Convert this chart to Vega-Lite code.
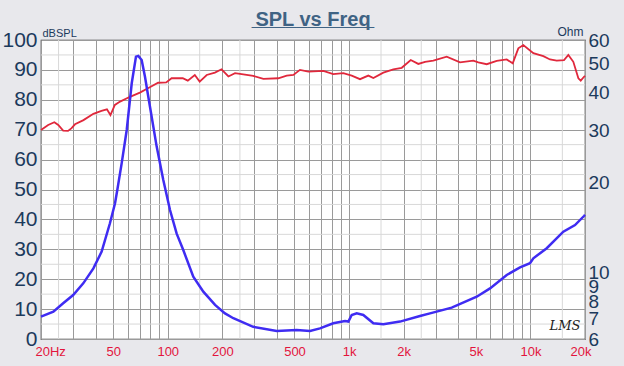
{
  "$schema": "https://vega.github.io/schema/vega-lite/v6.json",
  "width": 544,
  "height": 299,
  "autosize": {"type": "none"},
  "padding": {"left": 41, "top": 40, "right": 39, "bottom": 27},
  "background": "#e8e8ec",
  "config": {
    "view": {"stroke": "#333333", "strokeWidth": 1.2, "fill": "white"},
    "font": "Liberation Sans"
  },
  "title": {
    "text": "SPL vs Freq",
    "subtitle": "___________",
    "font": "Liberation Sans",
    "fontSize": 20,
    "fontWeight": "bold",
    "color": "#3f6384",
    "subtitleFont": "Liberation Sans",
    "subtitleFontSize": 20,
    "subtitleFontWeight": "bold",
    "subtitleColor": "#3f6384",
    "subtitlePadding": -21,
    "anchor": "middle",
    "offset": -6
  },
  "datasets": {
    "spl": [
      {"f": 20, "db": 69.9}, {"f": 21.9, "db": 71.6}, {"f": 23.7, "db": 72.5}, {"f": 24.9, "db": 71.6},
      {"f": 26.5, "db": 69.7}, {"f": 28.2, "db": 69.6}, {"f": 29.5, "db": 70.5}, {"f": 30.8, "db": 71.8},
      {"f": 34.3, "db": 73.2}, {"f": 38.9, "db": 75.3}, {"f": 43.1, "db": 76.3}, {"f": 46.2, "db": 76.8},
      {"f": 48.3, "db": 74.9}, {"f": 51.1, "db": 78.3}, {"f": 54.6, "db": 79.4}, {"f": 61.9, "db": 81.0},
      {"f": 70.2, "db": 82.4}, {"f": 79.6, "db": 84.2}, {"f": 88.5, "db": 85.7}, {"f": 98.1, "db": 85.8},
      {"f": 105, "db": 87.2}, {"f": 121, "db": 87.2}, {"f": 129, "db": 86.4}, {"f": 141, "db": 88.3},
      {"f": 150, "db": 86.1}, {"f": 164, "db": 88.3}, {"f": 182, "db": 89.1}, {"f": 198, "db": 90.2},
      {"f": 216, "db": 87.8}, {"f": 235, "db": 88.9}, {"f": 261, "db": 88.5}, {"f": 296, "db": 88.0},
      {"f": 337, "db": 87.0}, {"f": 407, "db": 87.2}, {"f": 453, "db": 88.1}, {"f": 493, "db": 88.3},
      {"f": 536, "db": 90.0}, {"f": 596, "db": 89.4}, {"f": 721, "db": 89.7}, {"f": 818, "db": 88.6},
      {"f": 929, "db": 88.9}, {"f": 1034, "db": 88.1}, {"f": 1149, "db": 86.9}, {"f": 1277, "db": 88.1},
      {"f": 1361, "db": 87.3}, {"f": 1545, "db": 89.1}, {"f": 1754, "db": 90.2}, {"f": 1951, "db": 90.7},
      {"f": 2188, "db": 93.3}, {"f": 2409, "db": 92.0}, {"f": 2623, "db": 92.7}, {"f": 2914, "db": 93.1},
      {"f": 3455, "db": 94.4}, {"f": 4091, "db": 92.5}, {"f": 4843, "db": 93.1}, {"f": 5161, "db": 92.5},
      {"f": 5742, "db": 91.9}, {"f": 6519, "db": 93.0}, {"f": 7402, "db": 93.5}, {"f": 7987, "db": 92.2},
      {"f": 8578, "db": 97.2}, {"f": 9141, "db": 98.3}, {"f": 10378, "db": 95.6}, {"f": 11782, "db": 94.6},
      {"f": 12825, "db": 93.5}, {"f": 13964, "db": 93.1}, {"f": 15321, "db": 93.3}, {"f": 16186, "db": 95.0},
      {"f": 17245, "db": 92.7}, {"f": 18385, "db": 87.2}, {"f": 18946, "db": 86.4}, {"f": 19750, "db": 87.7},
      {"f": 20000, "db": 88.0}
    ],
    "imp": [
      {"f": 20, "ohm": 7.13}, {"f": 23.4, "ohm": 7.40}, {"f": 26.5, "ohm": 7.90}, {"f": 30.1, "ohm": 8.42},
      {"f": 34.2, "ohm": 9.21}, {"f": 38.9, "ohm": 10.34}, {"f": 43.2, "ohm": 11.76}, {"f": 48.0, "ohm": 14.63},
      {"f": 51.2, "ohm": 17.06}, {"f": 52.7, "ohm": 18.9}, {"f": 55.7, "ohm": 23.2}, {"f": 59.4, "ohm": 30.0},
      {"f": 63.3, "ohm": 43.0}, {"f": 66.8, "ohm": 52.8}, {"f": 68.8, "ohm": 53.1}, {"f": 71.8, "ohm": 51.4},
      {"f": 74.9, "ohm": 45.2}, {"f": 79.8, "ohm": 35.9}, {"f": 86.9, "ohm": 26.4}, {"f": 94.5, "ohm": 20.4},
      {"f": 102.9, "ohm": 16.2}, {"f": 112, "ohm": 13.5}, {"f": 121.8, "ohm": 11.9}, {"f": 138.3, "ohm": 9.70},
      {"f": 157.1, "ohm": 8.64}, {"f": 182.3, "ohm": 7.80}, {"f": 206.9, "ohm": 7.31}, {"f": 230, "ohm": 7.04},
      {"f": 296, "ohm": 6.59}, {"f": 399, "ohm": 6.38}, {"f": 514, "ohm": 6.43}, {"f": 609, "ohm": 6.38},
      {"f": 691, "ohm": 6.51}, {"f": 818, "ohm": 6.77}, {"f": 950, "ohm": 6.89}, {"f": 991, "ohm": 6.86},
      {"f": 1034, "ohm": 7.22}, {"f": 1102, "ohm": 7.31}, {"f": 1198, "ohm": 7.22}, {"f": 1361, "ohm": 6.77},
      {"f": 1545, "ohm": 6.72}, {"f": 1909, "ohm": 6.86}, {"f": 2461, "ohm": 7.16}, {"f": 2794, "ohm": 7.31},
      {"f": 3681, "ohm": 7.64}, {"f": 5057, "ohm": 8.31}, {"f": 5987, "ohm": 8.86}, {"f": 7402, "ohm": 9.82},
      {"f": 8763, "ohm": 10.42}, {"f": 9949, "ohm": 10.75}, {"f": 10378, "ohm": 11.17}, {"f": 12303, "ohm": 12.07},
      {"f": 15185, "ohm": 13.71}, {"f": 17620, "ohm": 14.43}, {"f": 19750, "ohm": 15.47}, {"f": 20000, "ohm": 15.6}
    ],
    "vminor": [
      {"f": 25}, {"f": 150}, {"f": 250}, {"f": 1500}, {"f": 2500}, {"f": 15000}
    ],
    "hminor": [
      {"db": 5}, {"db": 15}, {"db": 25}, {"db": 35}, {"db": 45}, {"db": 55}, {"db": 65}, {"db": 75}, {"db": 85}, {"db": 95}
    ],
    "logo": [
      {"f": 15500, "db": 4.3, "t": "LMS"}
    ]
  },
  "layer": [
    {
      "data": {"name": "vminor"},
      "mark": {"type": "rule", "color": "#d8d8d8", "strokeWidth": 1},
      "encoding": {
        "x": {
          "field": "f", "type": "quantitative",
          "scale": {"type": "log", "domain": [20, 20000], "nice": false},
          "axis": {
            "values": [20, 30, 40, 50, 60, 70, 80, 90, 100, 200, 300, 400, 500, 600, 700, 800, 900, 1000, 2000, 3000, 4000, 5000, 6000, 7000, 8000, 9000, 10000, 20000],
            "labelExpr": "indexof([20,50,100,200,500,1000,2000,5000,10000,20000], datum.value) >= 0 ? (datum.value == 20 ? '20Hz' : (datum.value >= 1000 ? (datum.value / 1000) + 'k' : '' + datum.value)) : ''",
            "grid": true, "gridColor": "#9a9a9a", "gridWidth": 1,
            "ticks": false, "domain": false, "title": null,
            "labelFont": "Liberation Sans", "labelFontSize": 13, "labelColor": "#e3143c",
            "labelPadding": 6, "labelOverlap": false, "labelFlush": true, "labelFlushOffset": 6
          }
        }
      }
    },
    {
      "data": {"name": "hminor"},
      "mark": {"type": "rule", "color": "#d8d8d8", "strokeWidth": 1},
      "encoding": {
        "y": {"field": "db", "type": "quantitative", "scale": {"domain": [0, 100], "nice": false}, "axis": null}
      }
    },
    {
      "data": {"name": "spl"},
      "mark": {"type": "line", "color": "#e0283c", "strokeWidth": 1.8},
      "encoding": {
        "x": {"field": "f", "type": "quantitative", "scale": {"type": "log", "domain": [20, 20000], "nice": false}},
        "y": {
          "field": "db", "type": "quantitative",
          "scale": {"domain": [0, 100], "nice": false},
          "axis": {
            "orient": "left",
            "values": [0, 10, 20, 30, 40, 50, 60, 70, 80, 90, 100],
            "grid": true, "gridColor": "#9a9a9a", "gridWidth": 1,
            "ticks": false, "domain": false,
            "labelFont": "Liberation Sans", "labelFontSize": 21, "labelColor": "#1c3a5c",
            "labelPadding": 4, "labelOverlap": false, "labelFlush": false,
            "title": "dBSPL", "titleAngle": 0, "titleAlign": "left", "titleBaseline": "bottom",
            "titleX": 1, "titleY": -2, "titleFont": "Liberation Sans", "titleFontSize": 11,
            "titleFontWeight": "normal", "titleColor": "#1c3a5c"
          }
        }
      }
    },
    {
      "data": {"name": "imp"},
      "mark": {"type": "line", "color": "#3f2cf2", "strokeWidth": 2.5},
      "encoding": {
        "x": {"field": "f", "type": "quantitative", "scale": {"type": "log", "domain": [20, 20000], "nice": false}},
        "y": {
          "field": "ohm", "type": "quantitative",
          "scale": {"type": "log", "domain": [6, 60], "nice": false},
          "axis": {
            "orient": "right",
            "values": [6, 7, 8, 9, 10, 20, 30, 40, 50, 60],
            "format": "d",
            "grid": false, "ticks": false, "domain": false,
            "labelFont": "Liberation Sans", "labelFontSize": 19, "labelColor": "#1c3a5c",
            "labelPadding": 3, "labelOverlap": false, "labelFlush": false,
            "title": "Ohm", "titleAngle": 0, "titleAlign": "right", "titleBaseline": "bottom",
            "titleX": -2, "titleY": -2, "titleFont": "Liberation Sans", "titleFontSize": 12,
            "titleFontWeight": "normal", "titleColor": "#1c3a5c"
          }
        }
      }
    },
    {
      "data": {"name": "logo"},
      "mark": {"type": "text", "font": "DejaVu Serif", "fontStyle": "italic", "fontSize": 13, "color": "#222222", "baseline": "middle", "align": "center"},
      "encoding": {
        "x": {"field": "f", "type": "quantitative", "scale": {"type": "log", "domain": [20, 20000], "nice": false}},
        "y": {"field": "db", "type": "quantitative", "scale": {"domain": [0, 100], "nice": false}, "axis": null},
        "text": {"field": "t"}
      }
    }
  ],
  "resolve": {"scale": {"y": "independent"}, "axis": {"y": "independent"}}
}
